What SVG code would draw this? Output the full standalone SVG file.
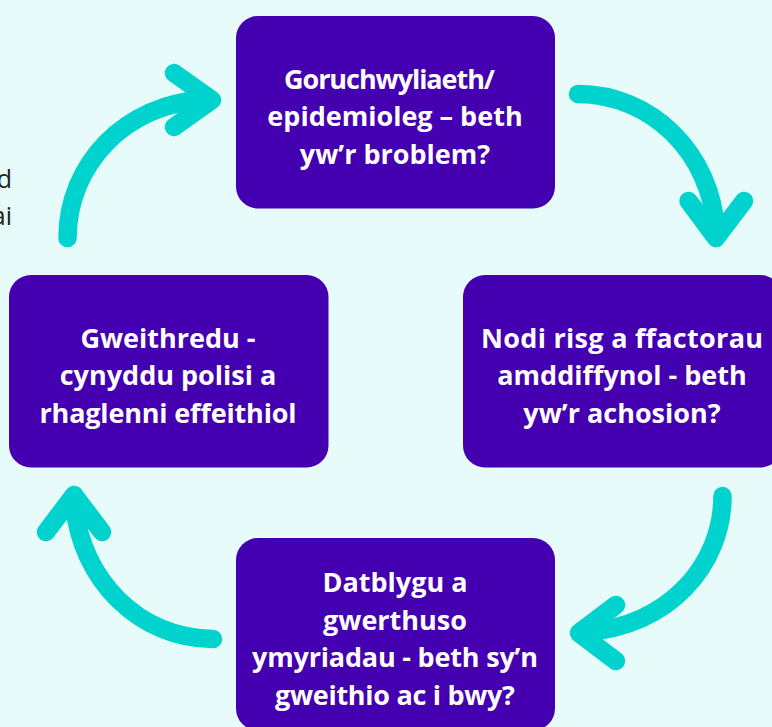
<svg xmlns="http://www.w3.org/2000/svg" width="772" height="727" viewBox="0 0 772 727">
<style>
.bg{fill:#e6fbfa}
.box{fill:#4400b0}
.lbl{font-family:"Open Sans","Liberation Sans",sans-serif;font-weight:700;font-size:27px;fill:#fff;text-anchor:middle}
.cut{font-family:"Open Sans","Liberation Sans",sans-serif;font-size:25px;fill:#222;text-anchor:end}
.arr{fill:none;stroke:#00d3cd;stroke-width:18.500;stroke-linecap:round;stroke-linejoin:round}
</style>
<rect class="bg" width="772" height="727"/>
<text class="cut" x="12" y="188">d</text>
<text class="cut" x="12" y="225">ai</text>
<g id="connectors">
<path class="arr" d="M67.500 238C67.500 165 125 103 206 99.500"/><path class="arr" d="M174 73L212 100L174 127"/>
<path class="arr" d="M578 94C650 94 712 152 716 232"/><path class="arr" d="M688.500 201L716 238L744 201"/>
<path class="arr" d="M722.500 496C722.500 565 668 627 585 632"/><path class="arr" d="M616 605L579 633L616 661"/>
<path class="arr" d="M213 639C140 639 80 580 74 502"/><path class="arr" d="M46 532L74 495L102 532"/>
</g>
<g id="node-top"><rect class="box" x="236" y="16" width="319" height="192.500" rx="22"/>
<text class="lbl" x="389.500" y="89" textLength="211">Goruchwyliaeth/</text><text class="lbl" x="395" y="126">epidemioleg – beth</text><text class="lbl" x="395" y="164">yw’r broblem?</text></g>
<g id="node-right"><rect class="box" x="463" y="275" width="319" height="192.500" rx="22"/>
<text class="lbl" x="622" y="348" textLength="282">Nodi risg a ffactorau</text><text class="lbl" x="622" y="385">amddiffynol - beth</text><text class="lbl" x="622" y="423">yw’r achosion?</text></g>
<g id="node-bottom"><rect class="box" x="236" y="538" width="319" height="192.500" rx="22"/>
<text class="lbl" x="395" y="592">Datblygu a</text><text class="lbl" x="395" y="630">gwerthuso</text><text class="lbl" x="395" y="667" textLength="286">ymyriadau - beth sy’n</text><text class="lbl" x="395" y="705" textLength="240">gweithio ac i bwy?</text></g>
<g id="node-left"><rect class="box" x="9" y="275" width="319.500" height="192.500" rx="22"/>
<text class="lbl" x="168" y="348">Gweithredu -</text><text class="lbl" x="168" y="385">cynyddu polisi a</text><text class="lbl" x="168" y="423" textLength="257">rhaglenni effeithiol</text></g>
</svg>
